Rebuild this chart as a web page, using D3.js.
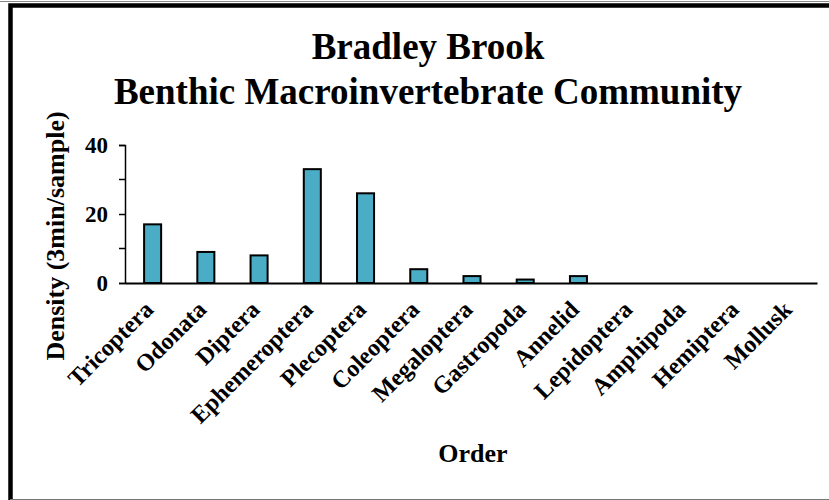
<!DOCTYPE html>
<html>
<head>
<meta charset="utf-8">
<script src="https://cdn.jsdelivr.net/npm/d3@7"></script>
<style>
  body { margin: 0; background: #fff; }
  text { font-family: "Liberation Serif", "Times New Roman", serif; font-weight: bold; fill: #000; }
</style>
</head>
<body>
<div id="wrapper"></div>
<script>
const orders = ["Tricoptera", "Odonata", "Diptera", "Ephemeroptera", "Plecoptera", "Coleoptera",
    "Megaloptera", "Gastropoda", "Annelid", "Lepidoptera", "Amphipoda", "Hemiptera", "Mollusk"]
const density = [17, 9, 8, 33, 26, 4, 2, 1, 2, 0, 0, 0, 0]
const yTicks = [0, 20, 40]
const yMinorTicks = [10, 30]
const titleLines = ["Bradley Brook", "Benthic Macroinvertebrate Community"]

const data = orders.map((o, i) => ({ order: o, value: density[i] }))

const dimensions = {
    width: 829,
    height: 500,
    margins: { top: 145, right: 12, bottom: 217, left: 125 }
}
dimensions.boundedWidth = dimensions.width - dimensions.margins.left - dimensions.margins.right
dimensions.boundedHeight = dimensions.height - dimensions.margins.top - dimensions.margins.bottom

const wrapper = d3.select("#wrapper")
    .append("svg")
        .attr("width", dimensions.width)
        .attr("height", dimensions.height)

// chart frame
wrapper.append("line")
    .attr("x1", 0).attr("x2", dimensions.width)
    .attr("y1", 1.5).attr("y2", 1.5)
    .attr("stroke", "#888").attr("stroke-width", 1)
wrapper.append("path")
    .attr("d", `M10.5,${dimensions.height} V5.5 H${dimensions.width}`)
    .attr("fill", "none")
    .attr("stroke", "#000")
    .attr("stroke-width", 4.5)
wrapper.append("line")
    .attr("x1", 10).attr("x2", dimensions.width)
    .attr("y1", 499.5).attr("y2", 499.5)
    .attr("stroke", "#777").attr("stroke-width", 1)

// title
wrapper.append("g").selectAll("text")
    .data(titleLines)
    .join("text")
        .attr("x", 428)
        .attr("y", (d, i) => 59 + i * 45)
        .attr("text-anchor", "middle")
        .style("font-size", "37px")
        .text(d => d)

const bounds = wrapper.append("g")
    .attr("transform", `translate(${dimensions.margins.left}, ${dimensions.margins.top})`)

const xScale = d3.scaleBand()
    .domain(orders)
    .range([0, dimensions.boundedWidth])
    .paddingInner(0.68)
    .paddingOuter(0.34)

const yScale = d3.scaleLinear()
    .domain([0, 40])
    .range([dimensions.boundedHeight, 0])

bounds.append("g").selectAll("rect")
    .data(data)
    .join("rect")
        .attr("x", d => xScale(d.order) + 1)
        .attr("y", d => yScale(d.value))
        .attr("width", xScale.bandwidth())
        .attr("height", d => dimensions.boundedHeight - yScale(d.value))
        .attr("fill", "#4bacc6")
        .attr("stroke", "#000")
        .attr("stroke-width", 2)

// y axis
const yAxisGenerator = d3.axisLeft(yScale)
    .tickValues(yTicks)
    .tickSize(6)
    .tickPadding(11)
const yAxis = bounds.append("g").call(yAxisGenerator)
yAxis.select(".domain").attr("stroke-width", 1.5)
yAxis.selectAll(".tick line").attr("stroke-width", 1.5)
yAxis.selectAll(".tick text")
    .style("font-size", "23px")
    .attr("font-family", null)
bounds.append("g").selectAll("line")
    .data(yMinorTicks)
    .join("line")
        .attr("x1", -6).attr("x2", 0)
        .attr("y1", d => yScale(d)).attr("y2", d => yScale(d))
        .attr("stroke", "#000").attr("stroke-width", 1.5)

// x axis
const xAxisGenerator = d3.axisBottom(xScale).tickSize(0).tickSizeOuter(0).tickFormat("")
const xAxis = bounds.append("g")
    .attr("transform", `translate(0, ${dimensions.boundedHeight})`)
    .call(xAxisGenerator)
xAxis.select(".domain").attr("stroke-width", 2)

bounds.append("g").selectAll("text")
    .data(orders)
    .join("text")
        .attr("transform", d => `translate(${xScale(d) + xScale.bandwidth() / 2 + 3}, ${dimensions.boundedHeight + 28}) rotate(-45)`)
        .attr("text-anchor", "end")
        .style("font-size", "24px")
        .text(d => d)

// axis labels
wrapper.append("text")
    .attr("transform", `translate(64, 236) rotate(-90)`)
    .attr("text-anchor", "middle")
    .style("font-size", "26px")
    .text("Density (3min/sample)")

wrapper.append("text")
    .attr("x", 473)
    .attr("y", 462)
    .attr("text-anchor", "middle")
    .style("font-size", "26px")
    .text("Order")
</script>
</body>
</html>
